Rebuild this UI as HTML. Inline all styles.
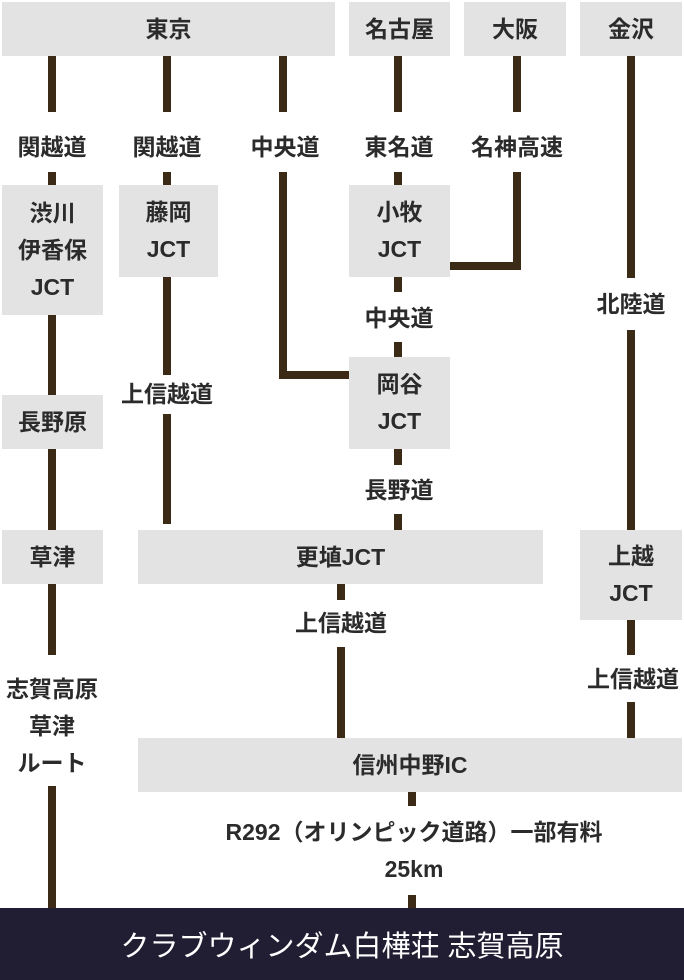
<!DOCTYPE html>
<html><head><meta charset="utf-8"><style>
body{margin:0;width:684px;height:980px;background:#fff;position:relative;overflow:hidden;font-family:"Liberation Sans","Noto Sans CJK JP",sans-serif;color:#2b2b2b}
.b{position:absolute;background:#e3e3e3;display:flex;align-items:center;justify-content:center;text-align:center;font-size:23px;font-weight:bold;line-height:37px}
.l{position:absolute;background:#3a2a16;width:8px}
.h{position:absolute;background:#3a2a16;height:8px}
.t{position:absolute;font-size:23px;font-weight:bold;text-align:center;line-height:37px;transform:translateX(-50%);white-space:nowrap}
.bar{position:absolute;left:0;top:908px;width:684px;height:72px;background:#211e33;color:#fff;font-size:29px;display:flex;align-items:center;justify-content:center}
</style></head><body>
<div class="b" style="left:2px;top:2px;width:333px;height:54px">東京</div>
<div class="b" style="left:349px;top:2px;width:101px;height:54px">名古屋</div>
<div class="b" style="left:464px;top:2px;width:102px;height:54px">大阪</div>
<div class="b" style="left:580px;top:2px;width:102px;height:54px">金沢</div>

<!-- col1 -->
<div class="l" style="left:48px;top:56px;height:56px"></div>
<div class="t" style="left:52px;top:129px">関越道</div>
<div class="l" style="left:48px;top:172px;height:13px"></div>
<div class="b" style="left:2px;top:185px;width:101px;height:130px">渋川<br>伊香保<br>JCT</div>
<div class="l" style="left:48px;top:315px;height:80px"></div>
<div class="b" style="left:2px;top:395px;width:101px;height:54px">長野原</div>
<div class="l" style="left:48px;top:449px;height:81px"></div>
<div class="b" style="left:2px;top:530px;width:101px;height:54px">草津</div>
<div class="l" style="left:48px;top:584px;height:71px"></div>
<div class="t" style="left:52px;top:671px">志賀高原<br>草津<br>ルート</div>
<div class="l" style="left:48px;top:786px;height:122px"></div>

<!-- col2 -->
<div class="l" style="left:163px;top:56px;height:56px"></div>
<div class="t" style="left:167px;top:129px">関越道</div>
<div class="l" style="left:163px;top:172px;height:13px"></div>
<div class="b" style="left:119px;top:185px;width:99px;height:92px">藤岡<br>JCT</div>
<div class="l" style="left:163px;top:277px;height:98px"></div>
<div class="t" style="left:167px;top:376px">上信越道</div>
<div class="l" style="left:163px;top:414px;height:110px"></div>

<!-- col3 -->
<div class="l" style="left:279px;top:56px;height:56px"></div>
<div class="t" style="left:285px;top:129px">中央道</div>
<div class="l" style="left:279px;top:172px;height:207px"></div>
<div class="h" style="left:279px;top:371px;width:70px"></div>

<!-- col4 -->
<div class="l" style="left:394px;top:56px;height:56px"></div>
<div class="t" style="left:399px;top:129px">東名道</div>
<div class="l" style="left:394px;top:172px;height:13px"></div>
<div class="b" style="left:349px;top:185px;width:101px;height:92px">小牧<br>JCT</div>
<div class="l" style="left:394px;top:277px;height:15px"></div>
<div class="t" style="left:399px;top:300px">中央道</div>
<div class="l" style="left:394px;top:342px;height:15px"></div>
<div class="b" style="left:349px;top:357px;width:101px;height:92px">岡谷<br>JCT</div>
<div class="l" style="left:394px;top:449px;height:16px"></div>
<div class="t" style="left:399px;top:472px">長野道</div>
<div class="l" style="left:394px;top:514px;height:16px"></div>
<div class="b" style="left:138px;top:530px;width:405px;height:54px">更埴JCT</div>
<div class="l" style="left:337px;top:584px;height:16px"></div>
<div class="t" style="left:341px;top:605px">上信越道</div>
<div class="l" style="left:337px;top:647px;height:91px"></div>

<!-- col5 -->
<div class="l" style="left:513px;top:56px;height:56px"></div>
<div class="t" style="left:517px;top:129px">名神高速</div>
<div class="l" style="left:513px;top:172px;height:98px"></div>
<div class="h" style="left:450px;top:262px;width:71px"></div>

<!-- col6 -->
<div class="l" style="left:627px;top:56px;height:222px"></div>
<div class="t" style="left:631px;top:286px">北陸道</div>
<div class="l" style="left:627px;top:330px;height:200px"></div>
<div class="b" style="left:580px;top:530px;width:102px;height:90px">上越<br>JCT</div>
<div class="l" style="left:627px;top:620px;height:35px"></div>
<div class="t" style="left:633px;top:661px">上信越道</div>
<div class="l" style="left:627px;top:702px;height:36px"></div>

<div class="b" style="left:138px;top:738px;width:544px;height:54px">信州中野IC</div>
<div class="l" style="left:408px;top:792px;height:14px"></div>
<div class="t" style="left:414px;top:814px">R292（オリンピック道路）一部有料<br>25km</div>
<div class="l" style="left:408px;top:895px;height:13px"></div>

<div class="bar">クラブウィンダム白樺荘 志賀高原</div>
</body></html>
